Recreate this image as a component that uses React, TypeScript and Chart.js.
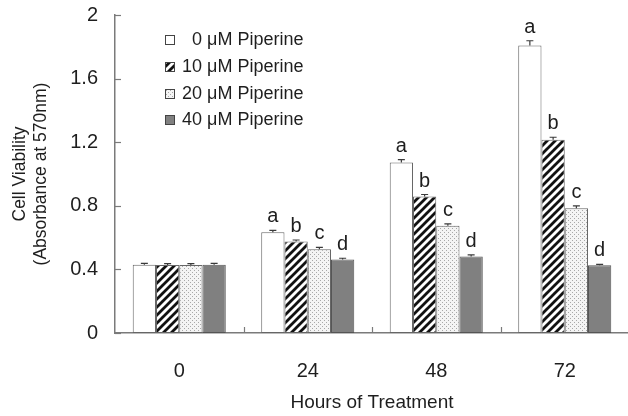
import { useEffect, useRef } from 'react';
import { Chart, registerables } from 'chart.js';

Chart.register(...registerables);

const categories = ['0', '24', '48', '72'];
const seriesLabels = ['0 μM Piperine', '10 μM Piperine', '20 μM Piperine', '40 μM Piperine'];
const values0 = [0.43, 0.634, 1.073, 1.808];
const values10 = [0.428, 0.575, 0.859, 1.216];
const values20 = [0.428, 0.527, 0.674, 0.785];
const values40 = [0.43, 0.462, 0.481, 0.426];
const errors0 = [0.008, 0.012, 0.018, 0.03];
const errors10 = [0.008, 0.01, 0.012, 0.015];
const errors20 = [0.008, 0.012, 0.012, 0.015];
const errors40 = [0.008, 0.008, 0.01, 0.006];
const letters0 = ['', 'a', 'a', 'a'];
const letters10 = ['', 'b', 'b', 'b'];
const letters20 = ['', 'c', 'c', 'c'];
const letters40 = ['', 'd', 'd', 'd'];
const yTickValues = [0, 0.4, 0.8, 1.2, 1.6, 2];

const FONT = '"Liberation Sans", Arial, Helvetica, sans-serif';
const TEXT = '#1e1e1e';
const AXIS = '#7a7a7a';

function makeHatch(): CanvasPattern | string {
  const c = document.createElement('canvas');
  c.width = 8; c.height = 8;
  const g = c.getContext('2d');
  if (!g) return '#000';
  g.fillStyle = '#fff';
  g.fillRect(0, 0, 8, 8);
  g.strokeStyle = '#111';
  g.lineWidth = 2.8;
  g.beginPath();
  g.moveTo(-2, 10); g.lineTo(10, -2);
  g.moveTo(-6, 6); g.lineTo(6, -6);
  g.moveTo(2, 14); g.lineTo(14, 2);
  g.stroke();
  return g.createPattern(c, 'repeat') || '#000';
}

function makeDots(): CanvasPattern | string {
  const c = document.createElement('canvas');
  c.width = 4; c.height = 4;
  const g = c.getContext('2d');
  if (!g) return '#ddd';
  g.fillStyle = '#f4f4f4';
  g.fillRect(0, 0, 4, 4);
  g.fillStyle = '#a8a8a8';
  g.fillRect(0, 0, 1, 1);
  g.fillRect(2, 2, 1, 1);
  return g.createPattern(c, 'repeat') || '#ddd';
}

export default function App() {
  const ref = useRef<HTMLCanvasElement | null>(null);

  useEffect(() => {
    const canvas = ref.current;
    if (!canvas) return;
    const hatch = makeHatch();
    const dots = makeDots();
    const fills: any[] = ['#ffffff', hatch, dots, '#808080'];
    const errors = [errors0, errors10, errors20, errors40];
    const letters = [letters0, letters10, letters20, letters40];

    const overlay = {
      id: 'overlay',
      afterDraw(chart: any) {
        const ctx = chart.ctx as CanvasRenderingContext2D;
        const area = chart.chartArea;
        const xs = chart.scales.x;
        const ys = chart.scales.y;
        ctx.save();
        // inner y ticks
        ctx.strokeStyle = AXIS;
        ctx.lineWidth = 1.2;
        yTickValues.forEach((v) => {
          const y = Math.round(ys.getPixelForValue(v)) + 0.5;
          ctx.beginPath();
          ctx.moveTo(area.left, y);
          ctx.lineTo(area.left + 6, y);
          ctx.stroke();
        });
        // inner x ticks at category boundaries
        for (let i = 1; i < categories.length; i++) {
          const x = Math.round((xs.getPixelForTick(i - 1) + xs.getPixelForTick(i)) / 2) + 0.5;
          ctx.beginPath();
          ctx.moveTo(x, area.bottom);
          ctx.lineTo(x, area.bottom - 6);
          ctx.stroke();
        }
        // error bars and letters
        chart.data.datasets.forEach((ds: any, di: number) => {
          const meta = chart.getDatasetMeta(di);
          meta.data.forEach((bar: any, i: number) => {
            const v = ds.data[i];
            const top = ys.getPixelForValue(v);
            const capY = ys.getPixelForValue(v + errors[di][i]);
            const x = bar.x;
            ctx.strokeStyle = '#3a3a3a';
            ctx.lineWidth = 1.2;
            ctx.beginPath();
            ctx.moveTo(x, top);
            ctx.lineTo(x, capY);
            ctx.moveTo(x - 3.5, capY);
            ctx.lineTo(x + 3.5, capY);
            ctx.stroke();
            const letter = letters[di][i];
            if (letter) {
              ctx.fillStyle = TEXT;
              ctx.font = `20px ${FONT}`;
              ctx.textAlign = 'center';
              ctx.textBaseline = 'alphabetic';
              ctx.fillText(letter, x, capY - 8);
            }
          });
        });
        // legend
        const rows = [40, 67, 94, 120];
        ctx.font = `18px ${FONT}`;
        ctx.textBaseline = 'middle';
        const numRight = 182 + ctx.measureText('10').width;
        seriesLabels.forEach((label, i) => {
          const cy = rows[i];
          ctx.fillStyle = fills[i];
          ctx.fillRect(165, cy - 5, 10, 10);
          ctx.strokeStyle = '#444';
          ctx.lineWidth = 1;
          ctx.strokeRect(165.5, cy - 4.5, 9, 9);
          const sp = label.indexOf(' ');
          const num = label.slice(0, sp);
          const rest = label.slice(sp);
          ctx.fillStyle = TEXT;
          ctx.textAlign = 'right';
          ctx.fillText(num, numRight, cy);
          ctx.textAlign = 'left';
          ctx.fillText(rest, numRight, cy);
        });
        ctx.restore();
      },
    };

    const chart = new Chart(canvas, {
      type: 'bar',
      data: {
        labels: categories,
        datasets: [values0, values10, values20, values40].map((d, i) => ({
          label: seriesLabels[i],
          data: d,
          backgroundColor: fills[i],
          borderColor: i === 3 ? '#555' : '#666',
          borderWidth: 1,
          borderSkipped: false,
          barPercentage: 1,
          categoryPercentage: 0.724,
        })),
      },
      options: {
        responsive: false,
        animation: false,
        devicePixelRatio: 1,
        layout: { padding: { top: 15, right: 3, left: 0, bottom: 0 } },
        plugins: { legend: { display: false }, tooltip: { enabled: false } },
        scales: {
          x: {
            grid: { display: false, drawTicks: false },
            border: { display: true, color: AXIS, width: 1.5 },
            ticks: { font: { size: 20, family: FONT }, color: TEXT, padding: 26 },
            title: {
              display: true,
              text: 'Hours of Treatment',
              font: { size: 19, family: FONT },
              color: TEXT,
              padding: { top: 0, bottom: 2 },
            },
            afterFit: (s: any) => { s.height = 83; },
          },
          y: {
            min: 0,
            max: 2,
            grid: { display: false, drawTicks: false },
            border: { display: true, color: AXIS, width: 1.5 },
            ticks: {
              stepSize: 0.4,
              font: { size: 20, family: FONT },
              color: TEXT,
              padding: 17,
              callback: (v: any) => String(Math.round(Number(v) * 10) / 10),
            },
            title: {
              display: true,
              text: ['Cell Viability', '(Absorbance at 570nm)'],
              font: { size: 17.5, family: FONT },
              color: TEXT,
              padding: { top: 10, bottom: 0 },
            },
            afterFit: (s: any) => {
              s.width = 115;
              s.paddingTop = 12;
              s.paddingBottom = 12;
            },
          },
        },
      },
      plugins: [overlay],
    });
    return () => chart.destroy();
  }, []);

  return (
    <div style={{ position: 'fixed', left: 0, top: 0, width: 628, height: 416, overflow: 'hidden', background: '#fff' }}>
      <canvas ref={ref} width={632} height={416} style={{ display: 'block' }} />
    </div>
  );
}
